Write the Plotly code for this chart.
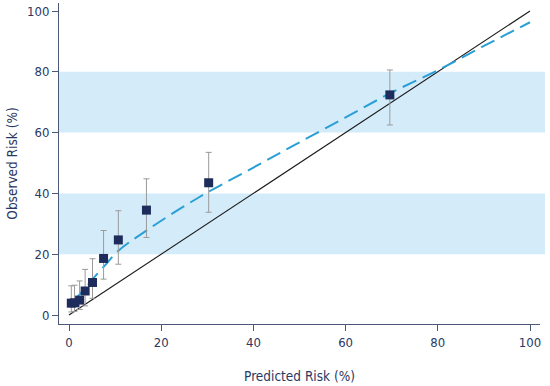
import plotly.graph_objects as go

# observed points
pred = [0.5, 1.2, 2.3, 3.5, 5.1, 7.5, 10.7, 16.8, 30.3, 69.6]
obs = [3.9, 4.0, 4.9, 7.9, 10.7, 18.6, 24.7, 34.5, 43.5, 72.4]
ci_low = [1.0, 1.2, 1.8, 3.0, 5.5, 11.8, 16.7, 25.5, 33.8, 62.5]
ci_high = [9.6, 9.8, 11.2, 15.0, 18.5, 27.8, 34.3, 44.8, 53.5, 80.6]

# smoothed calibration curve
curve_x = [1, 3, 5.6, 8.2, 10.6, 17, 28.4, 40, 50, 60, 70, 80, 90, 100]
curve_y = [4.5, 8, 12.6, 17, 21, 28, 38.9, 48.5, 56.8, 65, 73.2, 80.5, 88.5, 96.3]

# ideal line
ideal = [0, 100]

# shaded bands
bands = [(20, 40), (60, 80)]

x_ticks = [0, 20, 40, 60, 80, 100]
y_ticks = [0, 20, 40, 60, 80, 100]

navy = "#1e2c5c"
text_col = "#2b3763"
font_fam = "DejaVu Sans Condensed, Liberation Sans Narrow, sans-serif"

fig = go.Figure()

fig.add_trace(go.Scatter(x=ideal, y=ideal, mode="lines",
                         line=dict(color="#1a1a1a", width=1.1),
                         hoverinfo="skip", showlegend=False))
fig.add_trace(go.Scatter(x=curve_x, y=curve_y, mode="lines",
                         line=dict(color="#2a9fd6", width=2, dash="15px,7px", shape="spline"),
                         hoverinfo="skip", showlegend=False))
fig.add_trace(go.Scatter(
    x=pred, y=obs, mode="markers",
    marker=dict(symbol="square", size=9, color=navy),
    error_y=dict(type="data", symmetric=False,
                 array=[h - o for h, o in zip(ci_high, obs)],
                 arrayminus=[o - l for o, l in zip(obs, ci_low)],
                 color="#9a9a9a", thickness=1, width=3),
    hoverinfo="skip", showlegend=False))

for lo, hi in bands:
    fig.add_shape(type="rect", xref="paper", yref="y", x0=0, x1=1.0104,
                  y0=lo, y1=hi, fillcolor="#d4ecfa", line=dict(width=0), layer="below")

axis_common = dict(showgrid=False, zeroline=False, showline=True, linecolor="#4b5878",
                   linewidth=1, ticks="outside", ticklen=6, tickcolor="#4b5878",
                   automargin=False,
                   tickfont=dict(family=font_fam, size=13, color=text_col))

fig.update_xaxes(range=[-2.17, 102.17], tickvals=x_ticks,
                 title=dict(text="Predicted Risk (%)", font=dict(family=font_fam, size=13.5, color=text_col), standoff=22),
                 **axis_common)
fig.update_yaxes(range=[-2.96, 102.63], tickvals=y_ticks,
                 title=dict(text="Observed Risk (%)", font=dict(family=font_fam, size=13.5, color=text_col), standoff=6),
                 **axis_common)

fig.update_layout(width=550, height=386, margin=dict(l=59, r=10, t=3, b=62, autoexpand=False),
                  plot_bgcolor="white", paper_bgcolor="white", hovermode=False)

fig.write_html("out.html", config={"displayModeBar": False, "staticPlot": True},
               post_script="document.body.style.margin='0';document.body.style.padding='0';")
